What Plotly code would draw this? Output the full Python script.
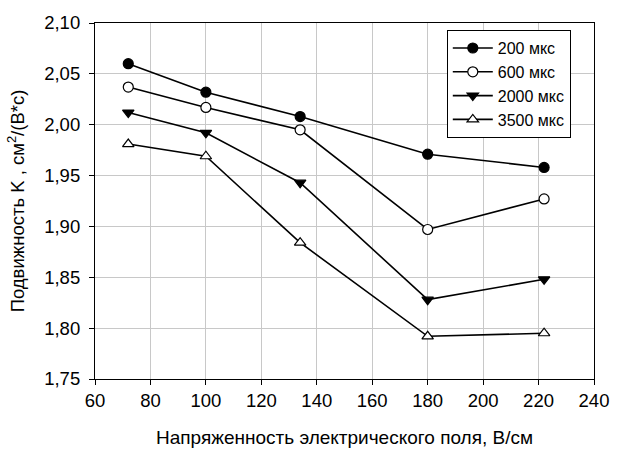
import plotly.graph_objects as go

# Electric field strength, V/cm
field = [72, 100, 134, 180, 222]

# Ion mobility K for each drift time
k_200 = [2.060, 2.032, 2.008, 1.971, 1.958]
k_600 = [2.037, 2.017, 1.995, 1.897, 1.927]
k_2000 = [2.012, 1.992, 1.943, 1.828, 1.848]
k_3500 = [1.981, 1.969, 1.884, 1.792, 1.795]

series_names = ["200 мкс", "600 мкс", "2000 мкс", "3500 мкс"]
x_ticks = [60, 80, 100, 120, 140, 160, 180, 200, 220, 240]
y_ticks = [1.75, 1.80, 1.85, 1.90, 1.95, 2.00, 2.05, 2.10]

styles = [
    dict(symbol="circle", color="black"),
    dict(symbol="circle", color="white"),
    dict(symbol="triangle-down", color="black"),
    dict(symbol="triangle-up", color="white"),
]

fig = go.Figure()
for name, vals, st in zip(series_names, [k_200, k_600, k_2000, k_3500], styles):
    fig.add_trace(go.Scatter(
        x=field, y=vals, name=name, mode="lines+markers",
        line=dict(color="black", width=1.6),
        marker=dict(symbol=st["symbol"], size=10, color=st["color"],
                    line=dict(color="black", width=1.2)),
    ))

font_family = "Liberation Sans, Arial, sans-serif"
fig.update_layout(
    width=621, height=457,
    margin=dict(l=95, r=20, t=14, b=74),
    paper_bgcolor="white", plot_bgcolor="white",
    separators=", ",
    font=dict(family=font_family, size=17, color="black"),
    showlegend=True,
    legend=dict(
        x=0.705, y=0.98, xanchor="left", yanchor="top",
        bgcolor="white", bordercolor="black", borderwidth=1,
        font=dict(size=16), tracegroupgap=0, itemwidth=40,
    ),
    xaxis=dict(
        range=[60, 240], tickvals=x_ticks,
        showgrid=True, gridcolor="#c8c8c8", gridwidth=1,
        showline=True, linecolor="black", linewidth=1.2, mirror=True,
        ticks="outside", ticklen=5, tickcolor="black",
        tickfont=dict(size=18.5), zeroline=False,
        title=dict(text="Напряженность электрического поля, В/см",
                   font=dict(size=19), standoff=20),
    ),
    yaxis=dict(
        range=[1.75, 2.10], tickvals=y_ticks, tickformat=".2f",
        showgrid=True, gridcolor="#c8c8c8", gridwidth=1,
        showline=True, linecolor="black", linewidth=1.2, mirror=True,
        ticks="outside", ticklen=5, tickcolor="black", ticklabelstandoff=5,
        tickfont=dict(size=18.5), zeroline=False,
        title=dict(text="Подвижность K , см<sup>2</sup>/(В*с)",
                   font=dict(size=18.5), standoff=14),
    ),
)

fig.write_html("out.html")
